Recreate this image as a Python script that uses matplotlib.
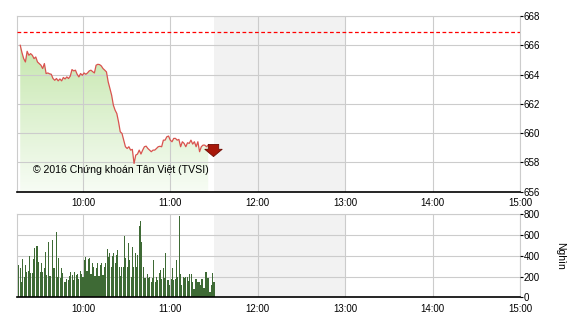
import matplotlib
matplotlib.use("Agg")
import matplotlib.pyplot as plt
import matplotlib.dates as mdates
from matplotlib.path import Path
from matplotlib.transforms import offset_copy
import numpy as np
import pandas as pd

plt.rcParams['font.family'] = ['Liberation Sans', 'DejaVu Sans']

# ---- data ----
day = '2016-01-01 '
session_start = day + '09:15'
session_end = day + '15:00'
lunch_start = day + '11:30'
lunch_end = day + '13:00'
ref_price = 666.9

price = [666.00, 665.50, 665.09, 664.86, 665.59, 665.32, 665.43, 665.32, 665.09, 665.20, 664.86,
         664.75, 664.64, 664.41, 664.75, 664.07, 664.11, 664.05, 664.02, 663.73, 663.61, 663.73,
         663.57, 663.70, 663.57, 663.80, 663.70, 663.84, 663.73, 663.89, 664.34, 664.25, 664.30,
         664.02, 663.84, 664.07, 663.95, 664.11, 664.02, 664.11, 664.25, 664.30, 664.20,
         664.11, 664.64, 664.70, 664.68, 664.59, 664.41, 664.30, 664.18, 663.50, 663.05,
         662.59, 661.91, 661.57, 661.34, 660.77, 660.09, 659.98, 659.52, 659.07, 658.95,
         659.07, 658.84, 658.89, 657.93, 658.50, 658.57, 658.84, 658.57, 658.84, 659.07,
         659.11, 658.95, 658.84, 658.73, 658.84, 658.84, 658.95, 659.07, 659.10, 659.07,
         659.52, 659.52, 659.75, 659.80, 659.52, 659.41, 659.64, 659.64, 659.52, 659.57,
         659.07, 659.41, 659.30, 659.07, 659.34, 659.30, 659.52, 659.25, 659.41, 659.07,
         659.41, 658.73, 659.07, 659.18, 659.18, 659.07, 659.18]
price_first = day + '09:17'
price_last = day + '11:26'

volume = [312, 280, 150, 365, 200, 312, 248, 254, 400, 230, 230, 366, 480, 490, 490, 344,
          248, 334, 248, 280, 434, 215, 537, 206, 206, 553, 280, 280, 633, 200, 376, 183,
          280, 238, 151, 151, 177, 167, 206, 248, 215, 167, 248, 215, 225, 177, 257, 225,
          200, 360, 392, 257, 367, 376, 225, 328, 296, 206, 280, 328, 206, 312, 328, 215,
          296, 334, 463, 392, 424, 296, 400, 424, 334, 408, 457, 296, 206, 296, 296, 592,
          376, 296, 521, 360, 200, 489, 296, 424, 296, 408, 688, 736, 537, 296, 183, 183,
          225, 183, 200, 151, 183, 360, 151, 200, 167, 232, 264, 174, 280, 183, 431, 167,
          167, 119, 174, 280, 167, 174, 360, 193, 785, 225, 119, 200, 183, 193, 193, 161,
          225, 225, 151, 77, 174, 177, 151, 151, 119, 177, 87, 87, 248, 183, 183, 55,
          119, 232, 151]
vol_first = day + '09:16'
vol_last = day + '11:30'

hour_ticks = ['10:00', '11:00', '12:00', '13:00', '14:00', '15:00']

# ---- times ----
t_price = pd.date_range(price_first, price_last, periods=len(price))
t_vol = pd.date_range(vol_first, vol_last, periods=len(volume))
x0 = mdates.date2num(pd.Timestamp(session_start))
x1 = mdates.date2num(pd.Timestamp(session_end))
xticks = [mdates.date2num(pd.Timestamp(day + h)) for h in hour_ticks]

grid_col = '#cccccc'
fig = plt.figure(figsize=(5.7, 3.2), dpi=100)
ax1 = fig.add_axes([0.0304, 0.401, 0.8819, 0.549])
ax2 = fig.add_axes([0.0304, 0.0709, 0.8819, 0.2594])

def style_axes(ax):
  for s in ['left', 'top', 'right']:
    ax.spines[s].set_color(grid_col)
    ax.spines[s].set_linewidth(0.8)
  ax.spines['bottom'].set_color('black')
  ax.spines['bottom'].set_linewidth(1.2)
  ax.spines['bottom'].set_zorder(5)
  ax.yaxis.tick_right()
  ax.tick_params(axis='y', length=2, width=0.8, pad=0.5, labelsize=7, colors='black')
  ax.tick_params(axis='x', length=0, pad=4.5, labelsize=7)
  ax.set_xlim(x0, x1)
  ax.set_xticks(xticks)
  ax.set_xticklabels(hour_ticks)
  ax.grid(True, color=grid_col, linewidth=0.8, zorder=2.5)
  ax.set_axisbelow(False)
  ax.axvspan(mdates.date2num(pd.Timestamp(lunch_start)),
             mdates.date2num(pd.Timestamp(lunch_end)),
             color='#f2f2f2', zorder=0, lw=0)

# ---- price chart ----
style_axes(ax1)
ax1.set_ylim(656, 668)
ax1.set_yticks(np.arange(656, 669, 2))

# gradient fill under the line
xp = mdates.date2num(t_price)
poly = ax1.fill_between(xp, price, 656, color='none', lw=0)
grad = np.linspace(0, 1, 256).reshape(-1, 1)
top_c = np.array([0.74, 0.89, 0.63])
bot_c = np.array([0.97, 0.99, 0.96])
img = top_c * (1 - grad[..., None]) + bot_c * grad[..., None]
im = ax1.imshow(img, extent=[x0, x1, 656, 668], aspect='auto', origin='upper', zorder=1)
im.set_clip_path(poly.get_paths()[0], transform=ax1.transData)

ax1.plot(xp, price, color='#d9534f', lw=0.9, zorder=3)
ax1.axhline(ref_price, color='#ff0000', lw=0.9, ls=(0, (3, 2)), zorder=3)

# down arrow at the last price
arrow = Path([(-0.3, 0.35), (0.3, 0.35), (0.3, 0.07), (0.5, 0.07), (0, -0.35),
              (-0.5, 0.07), (-0.3, 0.07), (-0.3, 0.35)])
ax1.plot(xp[-1], price[-1], marker=arrow, ms=12.5, color='#a8170a', mec='#6e0c04', mew=0.6,
         transform=offset_copy(ax1.transData, fig=fig, x=3.6, y=-3.6, units='points'), zorder=4)

ax1.text(0.031, 0.125, '© 2016 Chứng khoán Tân Việt (TVSI)', transform=ax1.transAxes,
         fontsize=7.6, va='center', ha='left', zorder=4)

# ---- volume chart ----
style_axes(ax2)
ax2.set_ylim(0, 800)
ax2.set_yticks([0, 200, 400, 600, 800])
bar_w = (mdates.date2num(t_vol[1]) - mdates.date2num(t_vol[0])) * 0.8
ax2.bar(mdates.date2num(t_vol), volume, width=bar_w, color='#3e6a35', zorder=3)
fig.text(0.982, 0.2, 'Nghìn', rotation=270, fontsize=7.5, ha='center', va='center')

fig.savefig('out.png', dpi=100)
